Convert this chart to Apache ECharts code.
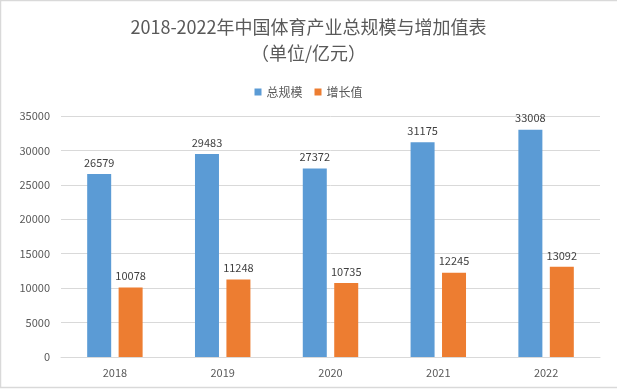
<!DOCTYPE html>
<html><head><meta charset="utf-8">
<script src="https://cdn.jsdelivr.net/npm/echarts@6/dist/echarts.min.js"></script>
<style>html,body{margin:0;padding:0;background:#fff}#c{width:617px;height:389px}</style>
</head><body><div id="c"></div>
<script>
const categories = ['2018','2019','2020','2021','2022'];
const totalScale = [26579, 29483, 27372, 31175, 33008];
const addedValue = [10078, 11248, 10735, 12245, 13092];
const seriesNames = ['总规模','增长值'];
const titleText = '2018-2022年中国体育产业总规模与增加值表\n（单位/亿元）';

const chart = echarts.init(document.getElementById('c'), null, {renderer:'canvas'});
const font = '"Noto Sans CJK SC", "Noto Sans", sans-serif';
chart.setOption({
  animation:false,
  backgroundColor:'#fff',
  title:{text:titleText,left:'center',top:9,
    textStyle:{fontFamily:font,fontSize:18,fontWeight:'normal',color:'#595959',lineHeight:26}},
  legend:{top:81,left:'center',itemWidth:7,itemHeight:7,itemGap:12,icon:'rect',
    textStyle:{fontFamily:font,fontSize:12,color:'#595959'},data:seriesNames},
  grid:{left:61,right:17,top:116,bottom:32},
  xAxis:{type:'category',data:categories,
    axisLine:{lineStyle:{color:'#d9d9d9'}},axisTick:{show:false},
    axisLabel:{fontFamily:font,fontSize:11,color:'#595959',margin:10}},
  yAxis:{type:'value',min:0,max:35000,interval:5000,
    axisLine:{show:false},axisTick:{show:false},
    splitLine:{lineStyle:{color:'#d9d9d9'}},
    axisLabel:{fontFamily:font,fontSize:11,color:'#595959',margin:11,formatter:v=>String(v)}},
  graphic:[{type:'rect',shape:{x:0.5,y:0.5,width:640,height:387},
    style:{fill:'none',stroke:'#d9d9d9',lineWidth:1.5},silent:true}],
  series:[
    {name:seriesNames[0],type:'bar',data:totalScale,barWidth:24,barGap:'31%',
      itemStyle:{color:'#5B9BD5'},
      label:{show:true,position:'top',distance:6,fontFamily:font,fontSize:11,color:'#404040'}},
    {name:seriesNames[1],type:'bar',data:addedValue,barWidth:24,
      itemStyle:{color:'#ED7D31'},
      label:{show:true,position:'top',distance:6,fontFamily:font,fontSize:11,color:'#404040'}}
  ]
});
</script></body></html>
